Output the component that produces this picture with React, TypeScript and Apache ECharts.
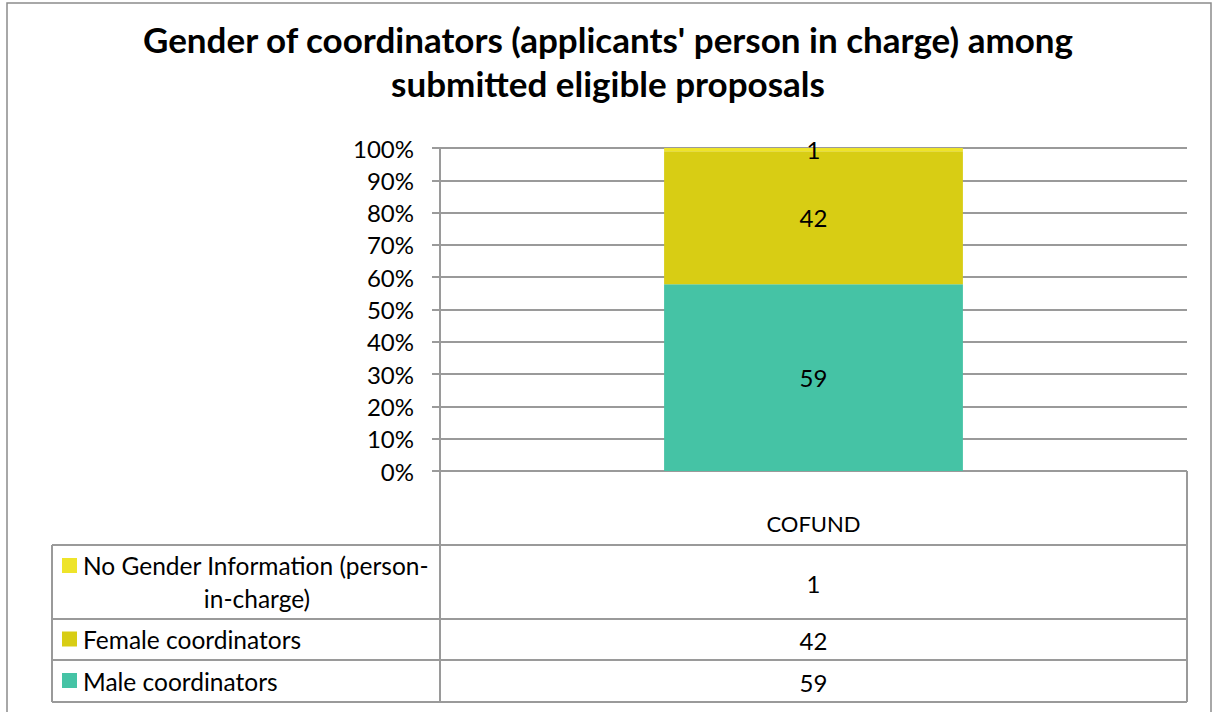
import React, { useEffect, useRef } from "react";
import * as echarts from "echarts";

const titleText = "Gender of coordinators (applicants' person in charge) among\nsubmitted eligible proposals";
const categories = ["COFUND"];
const seriesNames = ["Male coordinators", "Female coordinators", "No Gender Information (person-in-charge)"];
const maleCounts = [59];
const femaleCounts = [42];
const noGenderCounts = [1];
const colors = ["#45C3A5", "#D8CD14", "#EEE42A"];
const yTicks = [0, 10, 20, 30, 40, 50, 60, 70, 80, 90, 100];

const FONT = "Lato, 'Open Sans', sans-serif";

export default function App() {
  const ref = useRef<HTMLDivElement>(null);
  useEffect(() => {
    document.body.style.margin = "0";
    if (!ref.current) return;
    const chart = echarts.init(ref.current, undefined, { renderer: "svg" });
    const all = [maleCounts, femaleCounts, noGenderCounts];
    const totals = categories.map((_, i) => all.reduce((s, a) => s + a[i], 0));
    const pct = (arr: number[]) => arr.map((v, i) => (v / totals[i]) * 100);

    const lineColor = "#9a9a9a";
    const gL = 440, gR = 1187, gTop = 148, gBot = 471;
    const tTop = 545, r1 = 619, r2 = 660, tBot = 702, tLeft = 52;
    const midX = (gL + gR) / 2;
    const hline = (y: number, x1: number, x2: number) => ({
      type: "line", shape: { x1, y1: y, x2, y2: y }, style: { stroke: lineColor, lineWidth: 2 }, silent: true,
    });
    const vline = (x: number, y1: number, y2: number) => ({
      type: "line", shape: { x1: x, y1, x2: x, y2 }, style: { stroke: lineColor, lineWidth: 2 }, silent: true,
    });
    const txt = (x: number, y: number, text: string, align = "left", size = 24.5) => ({
      type: "text", x, y,
      style: { text, fontFamily: FONT, fontSize: size, fill: "#000", textAlign: align, textVerticalAlign: "middle" },
      silent: true,
    });
    const marker = (y: number, color: string) => ({
      type: "rect", shape: { x: 62, y, width: 15, height: 15 }, style: { fill: color }, silent: true,
    });

    const tableRows = [
      { name: seriesNames[2], vals: noGenderCounts, color: colors[2], y1: tTop, y2: r1 },
      { name: seriesNames[1], vals: femaleCounts, color: colors[1], y1: r1, y2: r2 },
      { name: seriesNames[0], vals: maleCounts, color: colors[0], y1: r2, y2: tBot },
    ];

    const graphics: any[] = [
      { type: "rect", shape: { x: 7, y: 3, width: 1204, height: 730 }, style: { fill: "none", stroke: "#8c8c8c", lineWidth: 1.5 }, silent: true },
      hline(tTop, tLeft, gR), hline(r1, tLeft, gR), hline(r2, tLeft, gR), hline(tBot, tLeft, gR),
      vline(tLeft, tTop, tBot), vline(gL, gBot, tBot), vline(gR, gBot, tBot),
    ];
    tableRows.forEach((row) => {
      const cy = (row.y1 + row.y2) / 2;
      if (row.name === seriesNames[2]) {
        graphics.push(marker(558, row.color));
        graphics.push(txt(83, 565, "No Gender Information (person-"));
        graphics.push(txt(257, 598, "in-charge)", "center"));
      } else {
        graphics.push(marker(cy - 8, row.color));
        graphics.push(txt(83, cy, row.name));
      }
      graphics.push(txt(midX, cy + 1, String(row.vals[0]), "center", 24));
    });

    const mkSeries = (name: string, counts: number[], color: string) => ({
      name, type: "bar", stack: "total", barWidth: "40%",
      data: pct(counts).map((v, i) => ({ value: v, count: counts[i] })),
      itemStyle: { color },
      label: {
        show: true, position: "inside", fontFamily: FONT, fontSize: 24, color: "#000",
        formatter: (p: any) => String(p.data.count),
      },
    });

    chart.setOption({
      animation: false,
      title: {
        text: titleText, left: 603, top: 12, textAlign: "center",
        textStyle: { fontFamily: FONT, fontSize: 35, fontWeight: "bold", color: "#000", lineHeight: 44 },
      },
      grid: { left: gL, right: 1215 - gR, top: gTop, bottom: 712 - gBot, containLabel: false },
      xAxis: {
        type: "category", data: categories,
        axisLine: { show: false }, axisTick: { show: false },
        axisLabel: { margin: 41, fontFamily: FONT, fontSize: 22, color: "#000", lineHeight: 22 },
      },
      yAxis: {
        type: "value", min: 0, max: 100, interval: 10,
        axisLine: { show: true, lineStyle: { color: lineColor, width: 2 } },
        axisTick: { show: true, length: 8, lineStyle: { color: lineColor, width: 2 } },
        axisLabel: {
          margin: 26, fontFamily: FONT, fontSize: 24, color: "#000",
          formatter: (v: number) => (yTicks.includes(v) ? `${v}%` : ""),
        },
        splitLine: { show: true, lineStyle: { color: lineColor, width: 2 } },
      },
      series: [
        mkSeries(seriesNames[0], maleCounts, colors[0]),
        mkSeries(seriesNames[1], femaleCounts, colors[1]),
        mkSeries(seriesNames[2], noGenderCounts, colors[2]),
      ],
      graphic: graphics,
    });
    return () => chart.dispose();
  }, []);
  return <div ref={ref} style={{ width: 1215, height: 712 }} />;
}
